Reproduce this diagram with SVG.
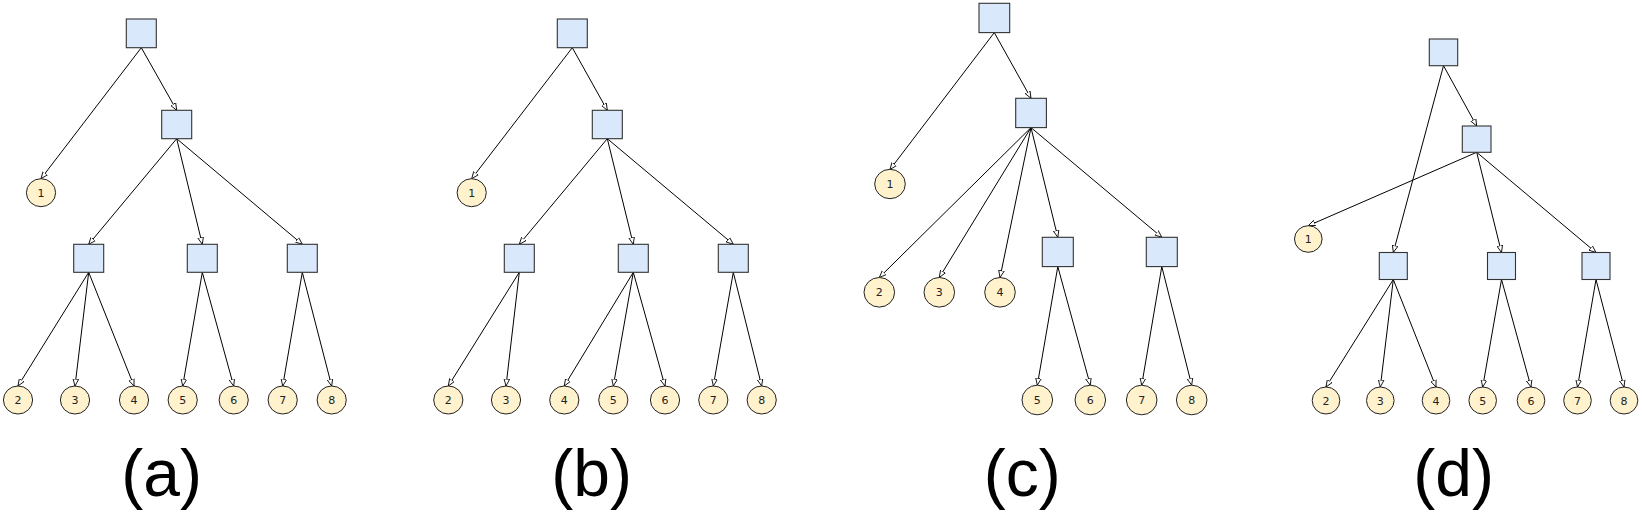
<svg xmlns="http://www.w3.org/2000/svg" width="1642" height="517" viewBox="0 0 1642 517">
<style>
.sq{fill:#dae8fc;stroke:#333;stroke-width:1.1}
.lf{fill:#fff2cc;stroke:#222;stroke-width:1}
.lt{font-family:"DejaVu Sans",sans-serif;font-size:11px;fill:#222;text-anchor:middle}
.e{stroke:#000;stroke-width:1;fill:none;marker-end:url(#arr)}
.cap{font-family:"Liberation Sans",Arial,sans-serif;font-size:66px;fill:#000;text-anchor:middle}
</style>
<defs>
<marker id="arr" viewBox="0 0 10 10" refX="10" refY="5" markerWidth="7" markerHeight="7" markerUnits="userSpaceOnUse" orient="auto">
<path d="M0,1 L10,5 L0,9 Z" fill="#fff" stroke="#000" stroke-width="1.2"/>
</marker>
</defs>
<g id="connectors">
<line class="e" x1="141.3" y1="47.7" x2="41" y2="178.7"/>
<line class="e" x1="141.3" y1="47.7" x2="176.7" y2="110.3"/>
<line class="e" x1="176.7" y1="138.7" x2="88.7" y2="244.3"/>
<line class="e" x1="176.7" y1="138.7" x2="202.3" y2="244.3"/>
<line class="e" x1="176.7" y1="138.7" x2="302.3" y2="244.3"/>
<line class="e" x1="88.7" y1="272.3" x2="18" y2="386"/>
<line class="e" x1="88.7" y1="272.3" x2="75" y2="386"/>
<line class="e" x1="88.7" y1="272.3" x2="134" y2="386"/>
<line class="e" x1="202.3" y1="272.3" x2="182.7" y2="386"/>
<line class="e" x1="202.3" y1="272.3" x2="233.7" y2="386"/>
<line class="e" x1="302.3" y1="272.3" x2="282.7" y2="386"/>
<line class="e" x1="302.3" y1="272.3" x2="331.7" y2="386"/>

<line class="e" x1="572.3" y1="47.7" x2="471.7" y2="178.7"/>
<line class="e" x1="572.3" y1="47.7" x2="607.3" y2="110.3"/>
<line class="e" x1="607.3" y1="138.7" x2="519.3" y2="244.3"/>
<line class="e" x1="607.3" y1="138.7" x2="633.3" y2="244.3"/>
<line class="e" x1="607.3" y1="138.7" x2="733.3" y2="244.3"/>
<line class="e" x1="519.3" y1="272.3" x2="448.3" y2="386"/>
<line class="e" x1="519.3" y1="272.3" x2="506" y2="386"/>
<line class="e" x1="633.3" y1="272.3" x2="564.3" y2="386"/>
<line class="e" x1="633.3" y1="272.3" x2="613.3" y2="386"/>
<line class="e" x1="633.3" y1="272.3" x2="665" y2="386"/>
<line class="e" x1="733.3" y1="272.3" x2="713.3" y2="386"/>
<line class="e" x1="733.3" y1="272.3" x2="761.7" y2="386"/>

<line class="e" x1="994.3" y1="32.6" x2="890" y2="169.5"/>
<line class="e" x1="994.3" y1="32.6" x2="1031" y2="98.3"/>
<line class="e" x1="1031" y1="127.6" x2="879.3" y2="277.5"/>
<line class="e" x1="1031" y1="127.6" x2="939.3" y2="277.5"/>
<line class="e" x1="1031" y1="127.6" x2="1000" y2="277.5"/>
<line class="e" x1="1031" y1="127.6" x2="1057.8" y2="237.3"/>
<line class="e" x1="1031" y1="127.6" x2="1161.8" y2="237.3"/>
<line class="e" x1="1057.8" y1="266.6" x2="1037.3" y2="385.2"/>
<line class="e" x1="1057.8" y1="266.6" x2="1090.3" y2="385.2"/>
<line class="e" x1="1161.8" y1="266.6" x2="1141.7" y2="385.2"/>
<line class="e" x1="1161.8" y1="266.6" x2="1191.7" y2="385.2"/>

<line class="e" x1="1443.5" y1="65.7" x2="1393.3" y2="252.5"/>
<line class="e" x1="1443.5" y1="65.7" x2="1476.7" y2="126"/>
<line class="e" x1="1476.7" y1="152.3" x2="1308.3" y2="225.7"/>
<line class="e" x1="1476.7" y1="152.3" x2="1501.5" y2="252.5"/>
<line class="e" x1="1476.7" y1="152.3" x2="1596" y2="252.5"/>
<line class="e" x1="1393.3" y1="279.5" x2="1326" y2="387"/>
<line class="e" x1="1393.3" y1="279.5" x2="1380.3" y2="387"/>
<line class="e" x1="1393.3" y1="279.5" x2="1436" y2="387"/>
<line class="e" x1="1501.5" y1="279.5" x2="1482.7" y2="387"/>
<line class="e" x1="1501.5" y1="279.5" x2="1531" y2="387"/>
<line class="e" x1="1596" y1="279.5" x2="1577.5" y2="387"/>
<line class="e" x1="1596" y1="279.5" x2="1624" y2="387"/>
</g>

<!-- Panel a -->
<g id="a-root"><rect class="sq" x="126.3" y="19" width="30" height="28.7"/></g>
<g id="a-inner"><rect class="sq" x="161.7" y="110.3" width="30" height="28.4"/></g>
<g id="a-A"><rect class="sq" x="73.7" y="244.3" width="30" height="28"/></g>
<g id="a-B"><rect class="sq" x="187.3" y="244.3" width="30" height="28"/></g>
<g id="a-C"><rect class="sq" x="287.3" y="244.3" width="30" height="28"/></g>
<g id="a-l1"><ellipse class="lf" cx="41" cy="192.7" rx="14.6" ry="14"/><text class="lt" x="41" y="196.7">1</text></g>
<g id="a-l2"><ellipse class="lf" cx="18" cy="400" rx="14.6" ry="14"/><text class="lt" x="18" y="404">2</text></g>
<g id="a-l3"><ellipse class="lf" cx="75" cy="400" rx="14.6" ry="14"/><text class="lt" x="75" y="404">3</text></g>
<g id="a-l4"><ellipse class="lf" cx="134" cy="400" rx="14.6" ry="14"/><text class="lt" x="134" y="404">4</text></g>
<g id="a-l5"><ellipse class="lf" cx="182.7" cy="400" rx="14.6" ry="14"/><text class="lt" x="182.7" y="404">5</text></g>
<g id="a-l6"><ellipse class="lf" cx="233.7" cy="400" rx="14.6" ry="14"/><text class="lt" x="233.7" y="404">6</text></g>
<g id="a-l7"><ellipse class="lf" cx="282.7" cy="400" rx="14.6" ry="14"/><text class="lt" x="282.7" y="404">7</text></g>
<g id="a-l8"><ellipse class="lf" cx="331.7" cy="400" rx="14.6" ry="14"/><text class="lt" x="331.7" y="404">8</text></g>

<!-- Panel b -->
<g id="b-root"><rect class="sq" x="557.3" y="19" width="30" height="28.7"/></g>
<g id="b-inner"><rect class="sq" x="592.3" y="110.3" width="30" height="28.4"/></g>
<g id="b-A"><rect class="sq" x="504.3" y="244.3" width="30" height="28"/></g>
<g id="b-B"><rect class="sq" x="618.3" y="244.3" width="30" height="28"/></g>
<g id="b-C"><rect class="sq" x="718.3" y="244.3" width="30" height="28"/></g>
<g id="b-l1"><ellipse class="lf" cx="471.7" cy="192.7" rx="14.6" ry="14"/><text class="lt" x="471.7" y="196.7">1</text></g>
<g id="b-l2"><ellipse class="lf" cx="448.3" cy="400" rx="14.6" ry="14"/><text class="lt" x="448.3" y="404">2</text></g>
<g id="b-l3"><ellipse class="lf" cx="506" cy="400" rx="14.6" ry="14"/><text class="lt" x="506" y="404">3</text></g>
<g id="b-l4"><ellipse class="lf" cx="564.3" cy="400" rx="14.6" ry="14"/><text class="lt" x="564.3" y="404">4</text></g>
<g id="b-l5"><ellipse class="lf" cx="613.3" cy="400" rx="14.6" ry="14"/><text class="lt" x="613.3" y="404">5</text></g>
<g id="b-l6"><ellipse class="lf" cx="665" cy="400" rx="14.6" ry="14"/><text class="lt" x="665" y="404">6</text></g>
<g id="b-l7"><ellipse class="lf" cx="713.3" cy="400" rx="14.6" ry="14"/><text class="lt" x="713.3" y="404">7</text></g>
<g id="b-l8"><ellipse class="lf" cx="761.7" cy="400" rx="14.6" ry="14"/><text class="lt" x="761.7" y="404">8</text></g>

<!-- Panel c -->
<g id="c-root"><rect class="sq" x="979" y="3.3" width="30.7" height="29.3"/></g>
<g id="c-inner"><rect class="sq" x="1015.7" y="98.3" width="30.7" height="29.3"/></g>
<g id="c-B"><rect class="sq" x="1042.3" y="237.3" width="31" height="29.3"/></g>
<g id="c-C"><rect class="sq" x="1146.3" y="237.3" width="31" height="29.3"/></g>
<g id="c-l1"><ellipse class="lf" cx="890" cy="184" rx="15.3" ry="14.7"/><text class="lt" x="890" y="188">1</text></g>
<g id="c-l2"><ellipse class="lf" cx="879.3" cy="292.3" rx="15.3" ry="14.8"/><text class="lt" x="879.3" y="296.3">2</text></g>
<g id="c-l3"><ellipse class="lf" cx="939.3" cy="292.3" rx="15.3" ry="14.8"/><text class="lt" x="939.3" y="296.3">3</text></g>
<g id="c-l4"><ellipse class="lf" cx="1000" cy="292.3" rx="15.3" ry="14.8"/><text class="lt" x="1000" y="296.3">4</text></g>
<g id="c-l5"><ellipse class="lf" cx="1037.3" cy="400" rx="15.3" ry="14.8"/><text class="lt" x="1037.3" y="404">5</text></g>
<g id="c-l6"><ellipse class="lf" cx="1090.3" cy="400" rx="15.3" ry="14.8"/><text class="lt" x="1090.3" y="404">6</text></g>
<g id="c-l7"><ellipse class="lf" cx="1141.7" cy="400" rx="15.3" ry="14.8"/><text class="lt" x="1141.7" y="404">7</text></g>
<g id="c-l8"><ellipse class="lf" cx="1191.7" cy="400" rx="15.3" ry="14.8"/><text class="lt" x="1191.7" y="404">8</text></g>

<!-- Panel d -->
<g id="d-root"><rect class="sq" x="1429.3" y="39" width="28.4" height="26.7"/></g>
<g id="d-inner"><rect class="sq" x="1462.3" y="126" width="28.7" height="26.3"/></g>
<g id="d-A"><rect class="sq" x="1379.3" y="252.5" width="28" height="27"/></g>
<g id="d-B"><rect class="sq" x="1487.5" y="252.5" width="28" height="27"/></g>
<g id="d-C"><rect class="sq" x="1582" y="252.5" width="28" height="27"/></g>
<g id="d-l1"><ellipse class="lf" cx="1308.3" cy="239" rx="13.8" ry="13.3"/><text class="lt" x="1308.3" y="243">1</text></g>
<g id="d-l2"><ellipse class="lf" cx="1326" cy="400.5" rx="13.8" ry="13.5"/><text class="lt" x="1326" y="404.5">2</text></g>
<g id="d-l3"><ellipse class="lf" cx="1380.3" cy="400.5" rx="13.8" ry="13.5"/><text class="lt" x="1380.3" y="404.5">3</text></g>
<g id="d-l4"><ellipse class="lf" cx="1436" cy="400.5" rx="13.8" ry="13.5"/><text class="lt" x="1436" y="404.5">4</text></g>
<g id="d-l5"><ellipse class="lf" cx="1482.7" cy="400.5" rx="13.8" ry="13.5"/><text class="lt" x="1482.7" y="404.5">5</text></g>
<g id="d-l6"><ellipse class="lf" cx="1531" cy="400.5" rx="13.8" ry="13.5"/><text class="lt" x="1531" y="404.5">6</text></g>
<g id="d-l7"><ellipse class="lf" cx="1577.5" cy="400.5" rx="13.8" ry="13.5"/><text class="lt" x="1577.5" y="404.5">7</text></g>
<g id="d-l8"><ellipse class="lf" cx="1624" cy="400.5" rx="13.8" ry="13.5"/><text class="lt" x="1624" y="404.5">8</text></g>

<g id="captions">
<text class="cap" x="161.7" y="496">(a)</text>
<text class="cap" x="591.7" y="496">(b)</text>
<text class="cap" x="1022.3" y="496">(c)</text>
<text class="cap" x="1453.7" y="496">(d)</text>
</g>
</svg>
